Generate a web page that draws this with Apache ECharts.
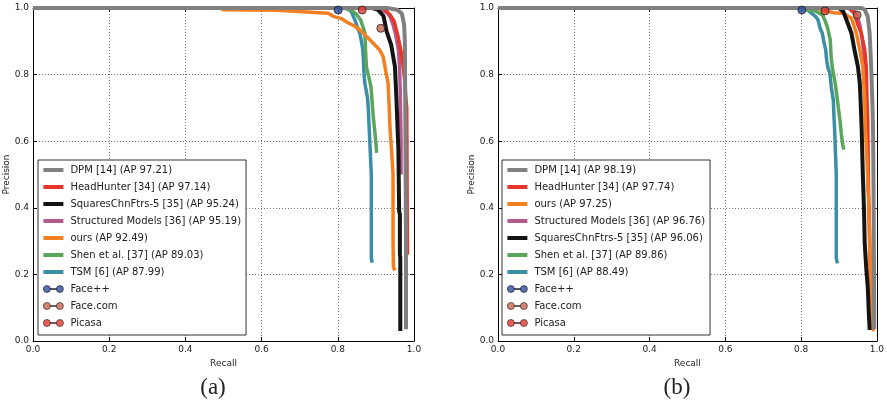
<!DOCTYPE html>
<html>
<head>
<meta charset="utf-8">
<title>Precision / Recall</title>
<script src="https://cdn.jsdelivr.net/npm/echarts@6/dist/echarts.min.js"></script>
<style>
    html, body { margin: 0; padding: 0; background: #fff; }
    #pr-chart { width: 887px; height: 409px; }
</style>
</head>
<body>
<div id="pr-chart"></div>
<script>
// axis ticks (both axes, both panels)
var ticks = [0.0, 0.2, 0.4, 0.6, 0.8, 1.0];

// ---- panel (a): [recall, precision]
var dpmA = [[0, 1], [0.93, 1], [0.955, 0.995], [0.968, 0.984], [0.974, 0.95], [0.976, 0.90], [0.977, 0.72], [0.978, 0.50], [0.979, 0.30], [0.979, 0.035]];
var headHunterA = [[0, 1], [0.92, 1], [0.937, 0.98], [0.948, 0.96], [0.957, 0.92], [0.966, 0.87], [0.972, 0.82], [0.976, 0.78], [0.978, 0.74], [0.981, 0.70], [0.982, 0.42], [0.983, 0.26]];
var squaresA = [[0, 1], [0.89, 1], [0.905, 0.995], [0.92, 0.976], [0.928, 0.93], [0.94, 0.89], [0.95, 0.824], [0.954, 0.724], [0.959, 0.574], [0.960, 0.49], [0.961, 0.39], [0.963, 0.38], [0.963, 0.26], [0.964, 0.25], [0.964, 0.03]];
var structuredA = [[0, 1], [0.91, 1], [0.93, 0.985], [0.937, 0.974], [0.945, 0.95], [0.951, 0.924], [0.955, 0.90], [0.959, 0.874], [0.962, 0.824], [0.964, 0.75], [0.966, 0.60], [0.966, 0.50]];
var oursA = [[0, 1], [0.49, 1], [0.50, 0.995], [0.64, 0.993], [0.645, 0.987], [0.775, 0.984], [0.79, 0.974], [0.81, 0.968], [0.823, 0.958], [0.845, 0.945], [0.858, 0.934], [0.876, 0.914], [0.893, 0.894], [0.91, 0.874], [0.919, 0.854], [0.926, 0.81], [0.932, 0.774], [0.935, 0.70], [0.937, 0.64], [0.941, 0.574], [0.945, 0.50], [0.945, 0.30], [0.946, 0.222], [0.950, 0.212]];
var shenA = [[0, 1], [0.82, 1], [0.835, 0.994], [0.85, 0.98], [0.86, 0.964], [0.867, 0.94], [0.871, 0.924], [0.873, 0.87], [0.875, 0.824], [0.882, 0.79], [0.887, 0.764], [0.89, 0.72], [0.893, 0.674], [0.898, 0.62], [0.901, 0.58], [0.902, 0.565]];
var tsmA = [[0, 1], [0.82, 1], [0.835, 0.99], [0.845, 0.964], [0.852, 0.94], [0.858, 0.924], [0.865, 0.88], [0.867, 0.85], [0.869, 0.80], [0.871, 0.774], [0.878, 0.73], [0.880, 0.70], [0.883, 0.624], [0.886, 0.55], [0.888, 0.498], [0.888, 0.25], [0.890, 0.235]];
var faceppA = [[0.801, 0.994]];
var facecomA = [[0.913, 0.939]];
var picasaA = [[0.864, 0.994]];

// ---- panel (b): [recall, precision]
var dpmB = [[0, 1], [0.96, 1], [0.968, 0.995], [0.976, 0.974], [0.981, 0.924], [0.985, 0.824], [0.988, 0.724], [0.990, 0.634], [0.991, 0.50], [0.992, 0.30], [0.993, 0.10], [0.993, 0.035]];
var headHunterB = [[0, 1], [0.925, 1], [0.94, 0.985], [0.95, 0.95], [0.959, 0.924], [0.968, 0.874], [0.972, 0.824], [0.974, 0.724], [0.976, 0.66], [0.978, 0.46], [0.981, 0.30], [0.983, 0.18]];
var oursB = [[0, 1], [0.84, 1], [0.86, 0.993], [0.885, 0.986], [0.911, 0.984], [0.933, 0.969], [0.946, 0.924], [0.955, 0.874], [0.963, 0.824], [0.968, 0.724], [0.970, 0.634], [0.974, 0.55], [0.977, 0.45], [0.979, 0.41], [0.982, 0.25], [0.985, 0.16], [0.988, 0.08], [0.990, 0.033], [0.994, 0.033]];
var structuredB = [[0, 1], [0.93, 1], [0.946, 0.984], [0.955, 0.95], [0.961, 0.91], [0.966, 0.86], [0.970, 0.80], [0.972, 0.72], [0.974, 0.62], [0.976, 0.50], [0.977, 0.45]];
var squaresB = [[0, 1], [0.90, 1], [0.911, 0.99], [0.920, 0.964], [0.933, 0.924], [0.941, 0.874], [0.950, 0.824], [0.955, 0.774], [0.957, 0.724], [0.960, 0.634], [0.963, 0.50], [0.966, 0.40], [0.968, 0.293], [0.972, 0.22], [0.976, 0.163], [0.979, 0.08], [0.981, 0.033]];
var shenB = [[0, 1], [0.80, 1], [0.819, 0.994], [0.84, 0.99], [0.857, 0.978], [0.864, 0.96], [0.869, 0.944], [0.874, 0.92], [0.877, 0.904], [0.879, 0.86], [0.882, 0.824], [0.886, 0.80], [0.89, 0.774], [0.894, 0.74], [0.898, 0.704], [0.903, 0.66], [0.906, 0.624], [0.91, 0.59], [0.913, 0.575]];
var tsmB = [[0, 1], [0.81, 1], [0.828, 0.984], [0.838, 0.975], [0.845, 0.964], [0.85, 0.94], [0.856, 0.924], [0.86, 0.90], [0.865, 0.874], [0.868, 0.84], [0.871, 0.82], [0.876, 0.804], [0.880, 0.76], [0.885, 0.724], [0.887, 0.67], [0.889, 0.624], [0.891, 0.56], [0.893, 0.498], [0.893, 0.248], [0.896, 0.233]];
var faceppB = [[0.802, 0.994]];
var facecomB = [[0.948, 0.979]];
var picasaB = [[0.863, 0.991]];

// legend labels, in legend order
var namesA = ['DPM [14] (AP 97.21)', 'HeadHunter [34] (AP 97.14)', 'SquaresChnFtrs-5 [35] (AP 95.24)', 'Structured Models [36] (AP 95.19)',
    'ours (AP 92.49)', 'Shen et al. [37] (AP 89.03)', 'TSM [6] (AP 87.99)', 'Face++', 'Face.com', 'Picasa'];
var namesB = ['DPM [14] (AP 98.19)', 'HeadHunter [34] (AP 97.74)', 'ours (AP 97.25)', 'Structured Models [36] (AP 96.76)',
    'SquaresChnFtrs-5 [35] (AP 96.06)', 'Shen et al. [37] (AP 89.86)', 'TSM [6] (AP 88.49)', 'Face++', 'Face.com', 'Picasa'];

var COLOR = {
    dpm: '#808080', head: '#e5372c', squares: '#141414', structured: '#b45a8f',
    ours: '#f47f20', shen: '#5aa55c', tsm: '#3c8ea7',
    facepp: '#2c4d9e', facecom: '#c8654d', picasa: '#e0362a'
};
var FONT = 'DejaVu Sans';
var LINE_ICON = 'path://M0,0H20V4H0Z';
var DOT_ICON = 'path://M0,3.5a3.5,3.5 0 1,0 7,0a3.5,3.5 0 1,0 -7,0M13,3.5a3.5,3.5 0 1,0 7,0a3.5,3.5 0 1,0 -7,0M7,3H13V4H7Z';

/**
 * axes for one panel: bottom/left carry labels, top/right only ticks
 */
function panelAxes(grid) {
    var tickStep = ticks[1] - ticks[0];
    var base = {
        type: 'value', gridIndex: grid, min: ticks[0], max: ticks[ticks.length - 1], interval: tickStep,
        axisLine: {show: true, onZero: false, lineStyle: {color: '#000', width: 1}},
        axisTick: {show: true, inside: true, length: 4, lineStyle: {color: '#000'}}
    };
    var label = {
        show: true, fontSize: 9, fontFamily: FONT, color: '#222', showMinLabel: true, showMaxLabel: true,
        formatter: function (v) { return v.toFixed(1); }
    };
    var gridLine = {show: true, lineStyle: {color: '#777', type: [1, 2], width: 1}};
    var nameStyle = {fontSize: 9, fontFamily: FONT, color: '#222'};
    return {
        x: [
            Object.assign({}, base, {position: 'bottom', axisLabel: Object.assign({margin: 4}, label), splitLine: gridLine,
                name: 'Recall', nameLocation: 'middle', nameGap: 16, nameTextStyle: nameStyle}),
            Object.assign({}, base, {position: 'top', axisLabel: {show: false}, splitLine: {show: false}})
        ],
        y: [
            Object.assign({}, base, {position: 'left', axisLabel: Object.assign({margin: 4}, label), splitLine: gridLine,
                name: 'Precision', nameLocation: 'middle', nameGap: 16, nameTextStyle: nameStyle}),
            Object.assign({}, base, {position: 'right', axisLabel: {show: false}, splitLine: {show: false}})
        ]
    };
}

function lineSeries(name, data, color, width, axis) {
    return {
        type: 'line', name: name, data: data, xAxisIndex: axis, yAxisIndex: axis,
        symbol: 'none', showSymbol: false, animation: false,
        lineStyle: {color: color, width: width}, itemStyle: {color: color}
    };
}

function dotSeries(name, data, color, axis) {
    return {
        type: 'scatter', name: name, data: data, xAxisIndex: axis, yAxisIndex: axis, z: 5,
        symbolSize: 8, animation: false, clip: false,
        itemStyle: {color: color, borderColor: '#222', borderWidth: 1}
    };
}

/**
 * boxed legend, lines first then the three single-point systems
 */
function panelLegend(names, colors, left) {
    var data = [];
    for (var i = 0; i < names.length; i++) {
        var dot = i >= 7;
        data.push({
            name: names[i],
            icon: dot ? DOT_ICON : LINE_ICON,
            itemStyle: dot ? {color: colors[i], borderColor: '#222', borderWidth: 0.8} : {color: colors[i], borderWidth: 0}
        });
    }
    return {
        orient: 'vertical', left: left, top: 160, padding: [4, 5, 6, 5],
        itemWidth: 20, itemHeight: 10, itemGap: 5, selectedMode: false,
        backgroundColor: '#fff', borderColor: '#333', borderWidth: 1,
        textStyle: {fontSize: 10, fontFamily: FONT, color: '#222', lineHeight: 12, padding: [0, 0, 0, 2]},
        data: data
    };
}

function initPrChart() {
    var myChart = echarts.init(document.getElementById('pr-chart'));
    var axA = panelAxes(0), axB = panelAxes(1);

    // drawn bottom-up: last series sits on top
    var series = [
        lineSeries(namesA[6], tsmA, COLOR.tsm, 3.5, 0),
        lineSeries(namesA[5], shenA, COLOR.shen, 3.5, 0),
        lineSeries(namesA[4], oursA, COLOR.ours, 3.5, 0),
        lineSeries(namesA[3], structuredA, COLOR.structured, 3.5, 0),
        lineSeries(namesA[2], squaresA, COLOR.squares, 4, 0),
        lineSeries(namesA[1], headHunterA, COLOR.head, 3.5, 0),
        lineSeries(namesA[0], dpmA, COLOR.dpm, 4, 0),
        dotSeries(namesA[7], faceppA, COLOR.facepp, 0),
        dotSeries(namesA[8], facecomA, COLOR.facecom, 0),
        dotSeries(namesA[9], picasaA, COLOR.picasa, 0),

        lineSeries(namesB[6], tsmB, COLOR.tsm, 3.5, 2),
        lineSeries(namesB[5], shenB, COLOR.shen, 3.5, 2),
        lineSeries(namesB[3], structuredB, COLOR.structured, 3.5, 2),
        lineSeries(namesB[1], headHunterB, COLOR.head, 3.5, 2),
        lineSeries(namesB[2], oursB, COLOR.ours, 3.5, 2),
        lineSeries(namesB[4], squaresB, COLOR.squares, 4, 2),
        lineSeries(namesB[0], dpmB, COLOR.dpm, 4, 2),
        dotSeries(namesB[7], faceppB, COLOR.facepp, 2),
        dotSeries(namesB[8], facecomB, COLOR.facecom, 2),
        dotSeries(namesB[9], picasaB, COLOR.picasa, 2)
    ];

    var colorsA = [COLOR.dpm, COLOR.head, COLOR.squares, COLOR.structured, COLOR.ours, COLOR.shen, COLOR.tsm, COLOR.facepp, COLOR.facecom, COLOR.picasa];
    var colorsB = [COLOR.dpm, COLOR.head, COLOR.ours, COLOR.structured, COLOR.squares, COLOR.shen, COLOR.tsm, COLOR.facepp, COLOR.facecom, COLOR.picasa];

    var option = {
        backgroundColor: '#fff',
        animation: false,
        grid: [
            {left: 33, top: 8, width: 381, height: 333},
            {left: 498, top: 8, width: 381, height: 333}
        ],
        xAxis: axA.x.concat(axB.x),
        yAxis: axA.y.concat(axB.y),
        legend: [panelLegend(namesA, colorsA, 38), panelLegend(namesB, colorsB, 502)],
        graphic: [
            {type: 'text', x: 213, y: 388, style: {text: '(a)', font: '23px "Liberation Serif"', fill: '#222', align: 'center', verticalAlign: 'middle'}},
            {type: 'text', x: 677, y: 388, style: {text: '(b)', font: '23px "Liberation Serif"', fill: '#222', align: 'center', verticalAlign: 'middle'}}
        ],
        series: series
    };
    myChart.setOption(option);
}

initPrChart();
</script>
</body>
</html>
